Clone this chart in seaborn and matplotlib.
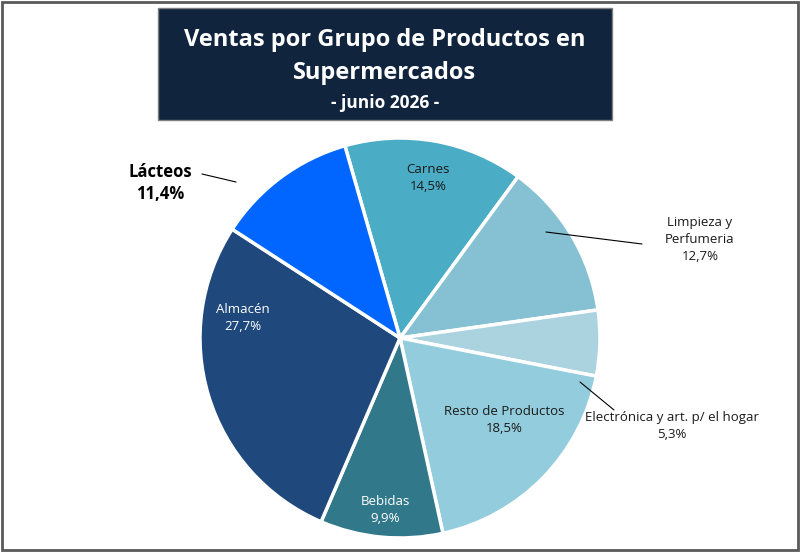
import matplotlib
matplotlib.use("Agg")
import matplotlib.pyplot as plt
import seaborn as sns
from matplotlib.patches import Rectangle

sns.set_theme(style="white")
plt.rcParams['font.family'] = ['Open Sans', 'DejaVu Sans']

# Data (clockwise from the top)
categories = ['Carnes', 'Limpieza y\nPerfumeria', 'Electrónica y art. p/ el hogar',
              'Resto de Productos', 'Bebidas', 'Almacén', 'Lácteos']
values = [14.5, 12.7, 5.3, 18.5, 9.9, 27.7, 11.4]
colors = ['#4bacc6', '#86c0d3', '#aad3df', '#93cddd', '#31788a', '#1f497d', '#0066ff']

# label placement (data units of the pie axes) and style
label_pos = [(0.14, 0.80), (1.50, 0.49), (1.36, -0.44), (0.52, -0.41),
             (-0.075, -0.86), (-0.785, 0.10), (-1.20, 0.775)]
label_col = ['#1a1a1a', '#1a1a1a', '#1a1a1a', '#1a1a1a', 'white', 'white', 'black']
leaders = {1: ((0.73, 0.53), (1.21, 0.47)),
           2: ((0.90, -0.22), (1.07, -0.36)),
           6: ((-0.82, 0.78), (-0.99, 0.82))}

fig = plt.figure(figsize=(8, 5.52), dpi=100)
fig.patch.set_facecolor('white')
fig.patches.append(Rectangle((0.003, 0.004), 0.994, 0.992, transform=fig.transFigure,
                             fill=False, edgecolor='#595959', linewidth=2))

ax = fig.add_axes([0.25, 0.0254, 0.5, 0.7246])
wedges, _ = ax.pie(values, colors=colors, startangle=106, counterclock=False,
                   wedgeprops=dict(edgecolor='white', linewidth=2.5), radius=1)
ax.set_xlim(-1, 1)
ax.set_ylim(-1, 1)
ax.set_aspect('equal')
ax.axis('off')

for i, (cat, val) in enumerate(zip(categories, values)):
    txt = f"{cat}\n" + f"{val:.1f}".replace('.', ',') + "%"
    if i == 6:
        ax.text(*label_pos[i], txt, ha='center', va='center', fontsize=12, fontweight='bold',
                color=label_col[i], clip_on=False, linespacing=1.3)
    else:
        ax.text(*label_pos[i], txt, ha='center', va='center', fontsize=9.5,
                color=label_col[i], clip_on=False, linespacing=1.4)
    if i in leaders:
        (x0, y0), (x1, y1) = leaders[i]
        ax.plot([x0, x1], [y0, y1], color='black', lw=0.8, clip_on=False)

# Title box
fig.patches.append(Rectangle((158 / 800, 1 - 120 / 552), 454 / 800, 112 / 552,
                             transform=fig.transFigure, facecolor='#10243e',
                             edgecolor='#7f7f7f', linewidth=1))
fig.text(385 / 800, 1 - 40 / 552, 'Ventas por Grupo de Productos en', ha='center', va='center',
         color='white', fontsize=17, fontweight='bold')
fig.text(385 / 800, 1 - 73 / 552, 'Supermercados', ha='center', va='center',
         color='white', fontsize=17, fontweight='bold')
fig.text(385 / 800, 1 - 103 / 552, '- junio 2026 -', ha='center', va='center',
         color='white', fontsize=12.5, fontweight='bold')

fig.savefig('out.png', dpi=100)
